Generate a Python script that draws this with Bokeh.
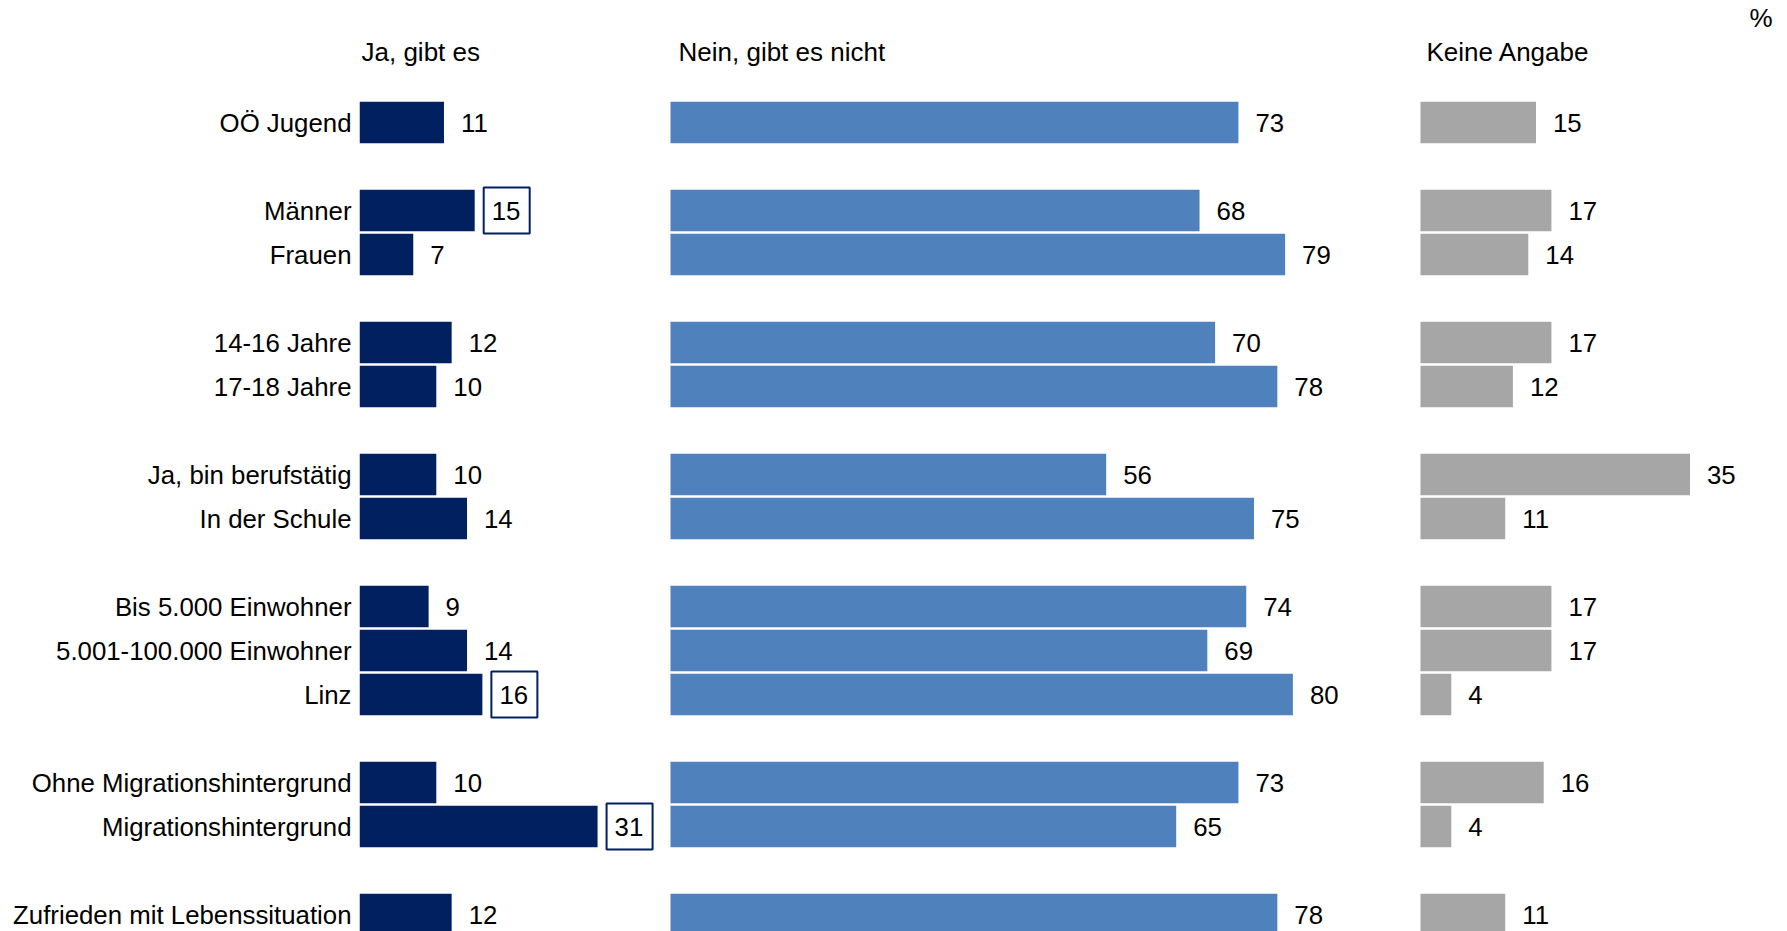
from bokeh.plotting import figure
from bokeh.models import Range1d, FixedTicker
from bokeh.core.properties import value
from bokeh.embed import file_html
from bokeh.resources import INLINE

# ---------------- data ----------------
labels = ["OÖ Jugend", "Männer", "Frauen", "14-16 Jahre", "17-18 Jahre",
          "Ja, bin berufstätig", "In der Schule", "Bis 5.000 Einwohner",
          "5.001-100.000 Einwohner", "Linz", "Ohne Migrationshintergrund",
          "Migrationshintergrund", "Zufrieden mit Lebenssituation"]
group = [0, 1, 1, 2, 2, 3, 3, 4, 4, 4, 5, 5, 6]
ja = [11, 15, 7, 12, 10, 10, 14, 9, 14, 16, 10, 31, 12]
nein = [73, 68, 79, 70, 78, 56, 75, 74, 69, 80, 73, 65, 78]
keine = [15, 17, 14, 17, 12, 35, 11, 17, 17, 4, 16, 4, 11]
boxed = ["Männer", "Linz", "Migrationshintergrund"]
headers = ["Ja, gibt es", "Nein, gibt es nicht", "Keine Angabe"]
unit = "%"

# ---------------- layout constants ----------------
W, H = 1787, 931
LEFT = 359
FRAME_W = W - LEFT
ROW_PX = 44
ROW0_PX = 122
SCALE_DARK = 7.68
SCALE_BLUE = 7.78
SCALE_GRAY = 7.7
BLUE_OFF = 311
GRAY_OFF = 1061
LABEL_GAP = 17
BOX_DX = 32
BOX_SIZE = 46
FONT = "Liberation Sans"
FS = "25.8px"
HFS = "26px"

DARK = "#002060"
BLUE = "#4F81BD"
GRAY = "#A6A6A6"

pos = [i + g for i, g in enumerate(group)]

y_top = -ROW0_PX / ROW_PX
y_bot = (H - ROW0_PX) / ROW_PX

p = figure(width=W, height=H, output_backend="svg", toolbar_location=None,
           x_range=Range1d(0, FRAME_W / SCALE_DARK),
           y_range=Range1d(y_bot, y_top),
           x_axis_location=None, y_axis_location="left",
           min_border_left=LEFT, min_border_right=0,
           min_border_top=0, min_border_bottom=0)
p.extra_x_ranges = {
    "blue": Range1d(-BLUE_OFF / SCALE_BLUE, (FRAME_W - BLUE_OFF) / SCALE_BLUE),
    "gray": Range1d(-GRAY_OFF / SCALE_GRAY, (FRAME_W - GRAY_OFF) / SCALE_GRAY),
}
p.outline_line_color = None
p.xgrid.visible = False
p.ygrid.visible = False
p.background_fill_color = "white"
p.border_fill_color = "white"

BAR_H = 0.945
p.hbar(y=pos, left=0, right=ja, height=BAR_H, fill_color=DARK, line_color=None)
p.hbar(y=pos, left=0, right=nein, height=BAR_H, fill_color=BLUE, line_color=None,
       x_range_name="blue")
p.hbar(y=pos, left=0, right=keine, height=BAR_H, fill_color=GRAY, line_color=None,
       x_range_name="gray")

common = dict(text_font=value(FONT), text_font_size=FS, text_color="black",
              text_align="left", text_baseline="middle")
p.text(x=ja, y=pos, text=[str(v) for v in ja], x_offset=LABEL_GAP, **common)
p.text(x=nein, y=pos, text=[str(v) for v in nein], x_offset=LABEL_GAP,
       x_range_name="blue", **common)
p.text(x=keine, y=pos, text=[str(v) for v in keine], x_offset=LABEL_GAP,
       x_range_name="gray", **common)

# highlighted values (boxes)
bx = [ja[i] + BOX_DX / SCALE_DARK for i, l in enumerate(labels) if l in boxed]
by = [pos[i] for i, l in enumerate(labels) if l in boxed]
p.rect(x=bx, y=by, width=BOX_SIZE, height=BOX_SIZE, width_units="screen",
       height_units="screen", fill_color=None, line_color=DARK, line_width=2)

# headers
HEAD_Y = (51 - ROW0_PX) / ROW_PX
hcommon = dict(text_font=value(FONT), text_font_size=HFS, text_color="black",
               text_align="left", text_baseline="middle")
p.text(x=[0], y=[HEAD_Y], text=[headers[0]], x_offset=2, **hcommon)
p.text(x=[0], y=[HEAD_Y], text=[headers[1]], x_offset=8, x_range_name="blue", **hcommon)
p.text(x=[0], y=[HEAD_Y], text=[headers[2]], x_offset=6, x_range_name="gray", **hcommon)
PCT_Y = (17 - ROW0_PX) / ROW_PX
p.text(x=[0], y=[PCT_Y], text=[unit], x_offset=329, x_range_name="gray", **hcommon)

# category axis
ax = p.yaxis[0]
ax.ticker = FixedTicker(ticks=pos, minor_ticks=[])
ax.major_label_overrides = {pp: lab for pp, lab in zip(pos, labels)}
ax.major_label_text_font = FONT
ax.major_label_text_font_size = FS
ax.major_label_text_color = "black"
ax.major_label_standoff = 8
ax.major_tick_line_color = None
ax.minor_tick_line_color = None
ax.axis_line_color = None
ax.major_tick_out = 0
ax.major_tick_in = 0

open("out.html", "w").write(file_html(p, INLINE))
